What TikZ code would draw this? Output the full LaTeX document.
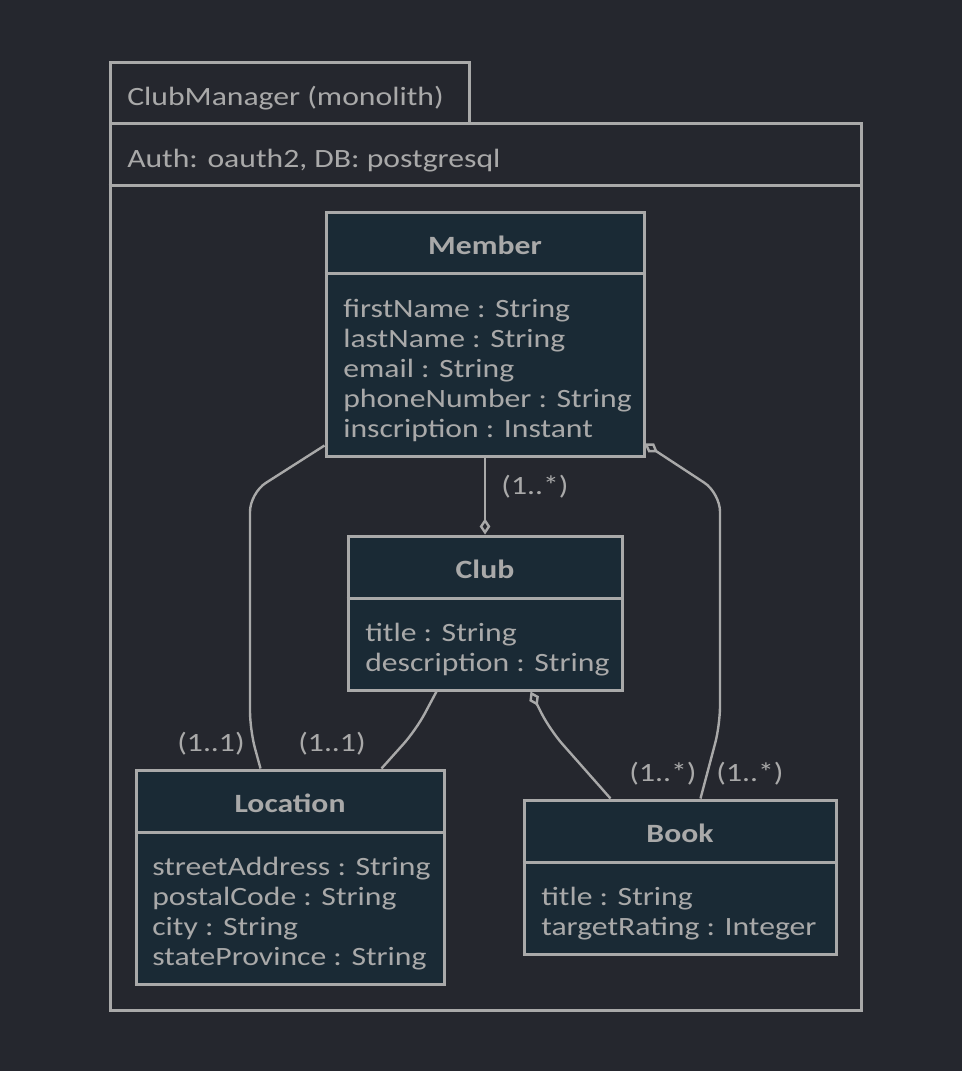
\documentclass[tikz,border=0pt]{standalone}
\usepackage{fontspec}
\setmainfont{Carlito}[FakeStretch=1.2]
\usetikzlibrary{fit,calc,arrows.meta}
\definecolor{bg}{HTML}{25272E}
\definecolor{boxfill}{HTML}{1A2A35}
\definecolor{ln}{HTML}{A9A9A9}
\tikzset{
  classbox/.style={draw=ln, fill=boxfill, line width=2.25pt, inner sep=0pt},
  pkgbox/.style={draw=ln, line width=2.25pt, inner sep=0pt},
  sepline/.style={draw=ln, line width=2.25pt},
  ctitle/.style={text=ln, font={\fontsize{19.8pt}{22.5pt}\selectfont\bfseries}, inner sep=0pt},
  attrs/.style={text=ln, font={\fontsize{19.8pt}{22.5pt}\selectfont}, align=left, inner sep=0pt, anchor=north west},
  ptext/.style={text=ln, font={\fontsize{19.8pt}{22.5pt}\selectfont}, inner sep=0pt, anchor=base west},
  mult/.style={text=ln, font={\fontsize{19.8pt}{22.5pt}\selectfont}, inner sep=0pt},
  conn/.style={draw=ln, line width=1.8pt, rounded corners=14pt},
  aggr/.style={conn, {Diamond[open,length=12pt,width=8pt]}-}
}
\begin{document}
\begin{tikzpicture}[x=0.75pt,y=-0.75pt]
\path[fill=bg] (0,0) rectangle (962,1071);
\useasboundingbox (0,0) rectangle (962,1071);
% package
\node[pkgbox, fit={(110,62) (469,123)}] (tab) {};
\node[pkgbox, fit={(110,123) (861,1010)}] (pkg) {};
\draw[sepline] (pkg.west |- 0,185) -- (pkg.east |- 0,185);
\node[ptext] (pkgname) at (127,105) {ClubManager (monolith)};
\node[ptext] (pkginfo) at (127,167) {Auth: oauth2, DB: postgresql};
% Member
\node[classbox, fit={(326,212) (644,456)}] (member) {};
\draw[sepline] (member.west |- 0,273) -- (member.east |- 0,273);
\node[ctitle] (memberT) at (485,245) {Member};
\node[attrs] (memberA) at (343,293) {\rule{0pt}{18pt}firstName : String\\lastName : String\\email : String\\phoneNumber : String\\inscription : Instant};
% Club
\node[classbox, fit={(348,536) (622,690)}] (club) {};
\draw[sepline] (club.west |- 0,598) -- (club.east |- 0,598);
\node[ctitle] (clubT) at (485,569) {Club};
\node[attrs] (clubA) at (365,617) {\rule{0pt}{18pt}title : String\\description : String};
% Location
\node[classbox, fit={(136,770) (444,984)}] (location) {};
\draw[sepline] (location.west |- 0,832) -- (location.east |- 0,832);
\node[ctitle] (locationT) at (290,803) {Location};
\node[attrs] (locationA) at (152,851) {\rule{0pt}{18pt}streetAddress : String\\postalCode : String\\city : String\\stateProvince : String};
% Book
\node[classbox, fit={(524,800) (836,954)}] (book) {};
\draw[sepline] (book.west |- 0,862) -- (book.east |- 0,862);
\node[ctitle] (bookT) at (680,833) {Book};
\node[attrs] (bookA) at (541,881) {\rule{0pt}{18pt}title : String\\targetRating : Integer};
% connectors
\draw[conn] ($(member.south west)+(0,-12)$) -- (250,493) -- (250,730) -- ($(location.north west)+(126,0)$);
\draw[aggr] (club.north) -- (member.south);
\draw[aggr] ($(member.south east)+(-1,-14)$) -- (720,493) -- (720,725) -- ($(book.north west)+(178,0)$);
\draw[conn] ($(club.south west)+(90,0)$) -- (416,730) -- ($(location.north west)+(247,0)$);
\draw[aggr] ($(club.south west)+(184,0)$) -- (550,730) -- ($(book.north west)+(88,0)$);
% multiplicities
\node[mult] (m1) at (535,487) {(1..*)};
\node[mult] (m2) at (211,744) {(1..1)};
\node[mult] (m3) at (332,744) {(1..1)};
\node[mult] (m4) at (663,774) {(1..*)};
\node[mult] (m5) at (750,774) {(1..*)};
\end{tikzpicture}
\end{document}
